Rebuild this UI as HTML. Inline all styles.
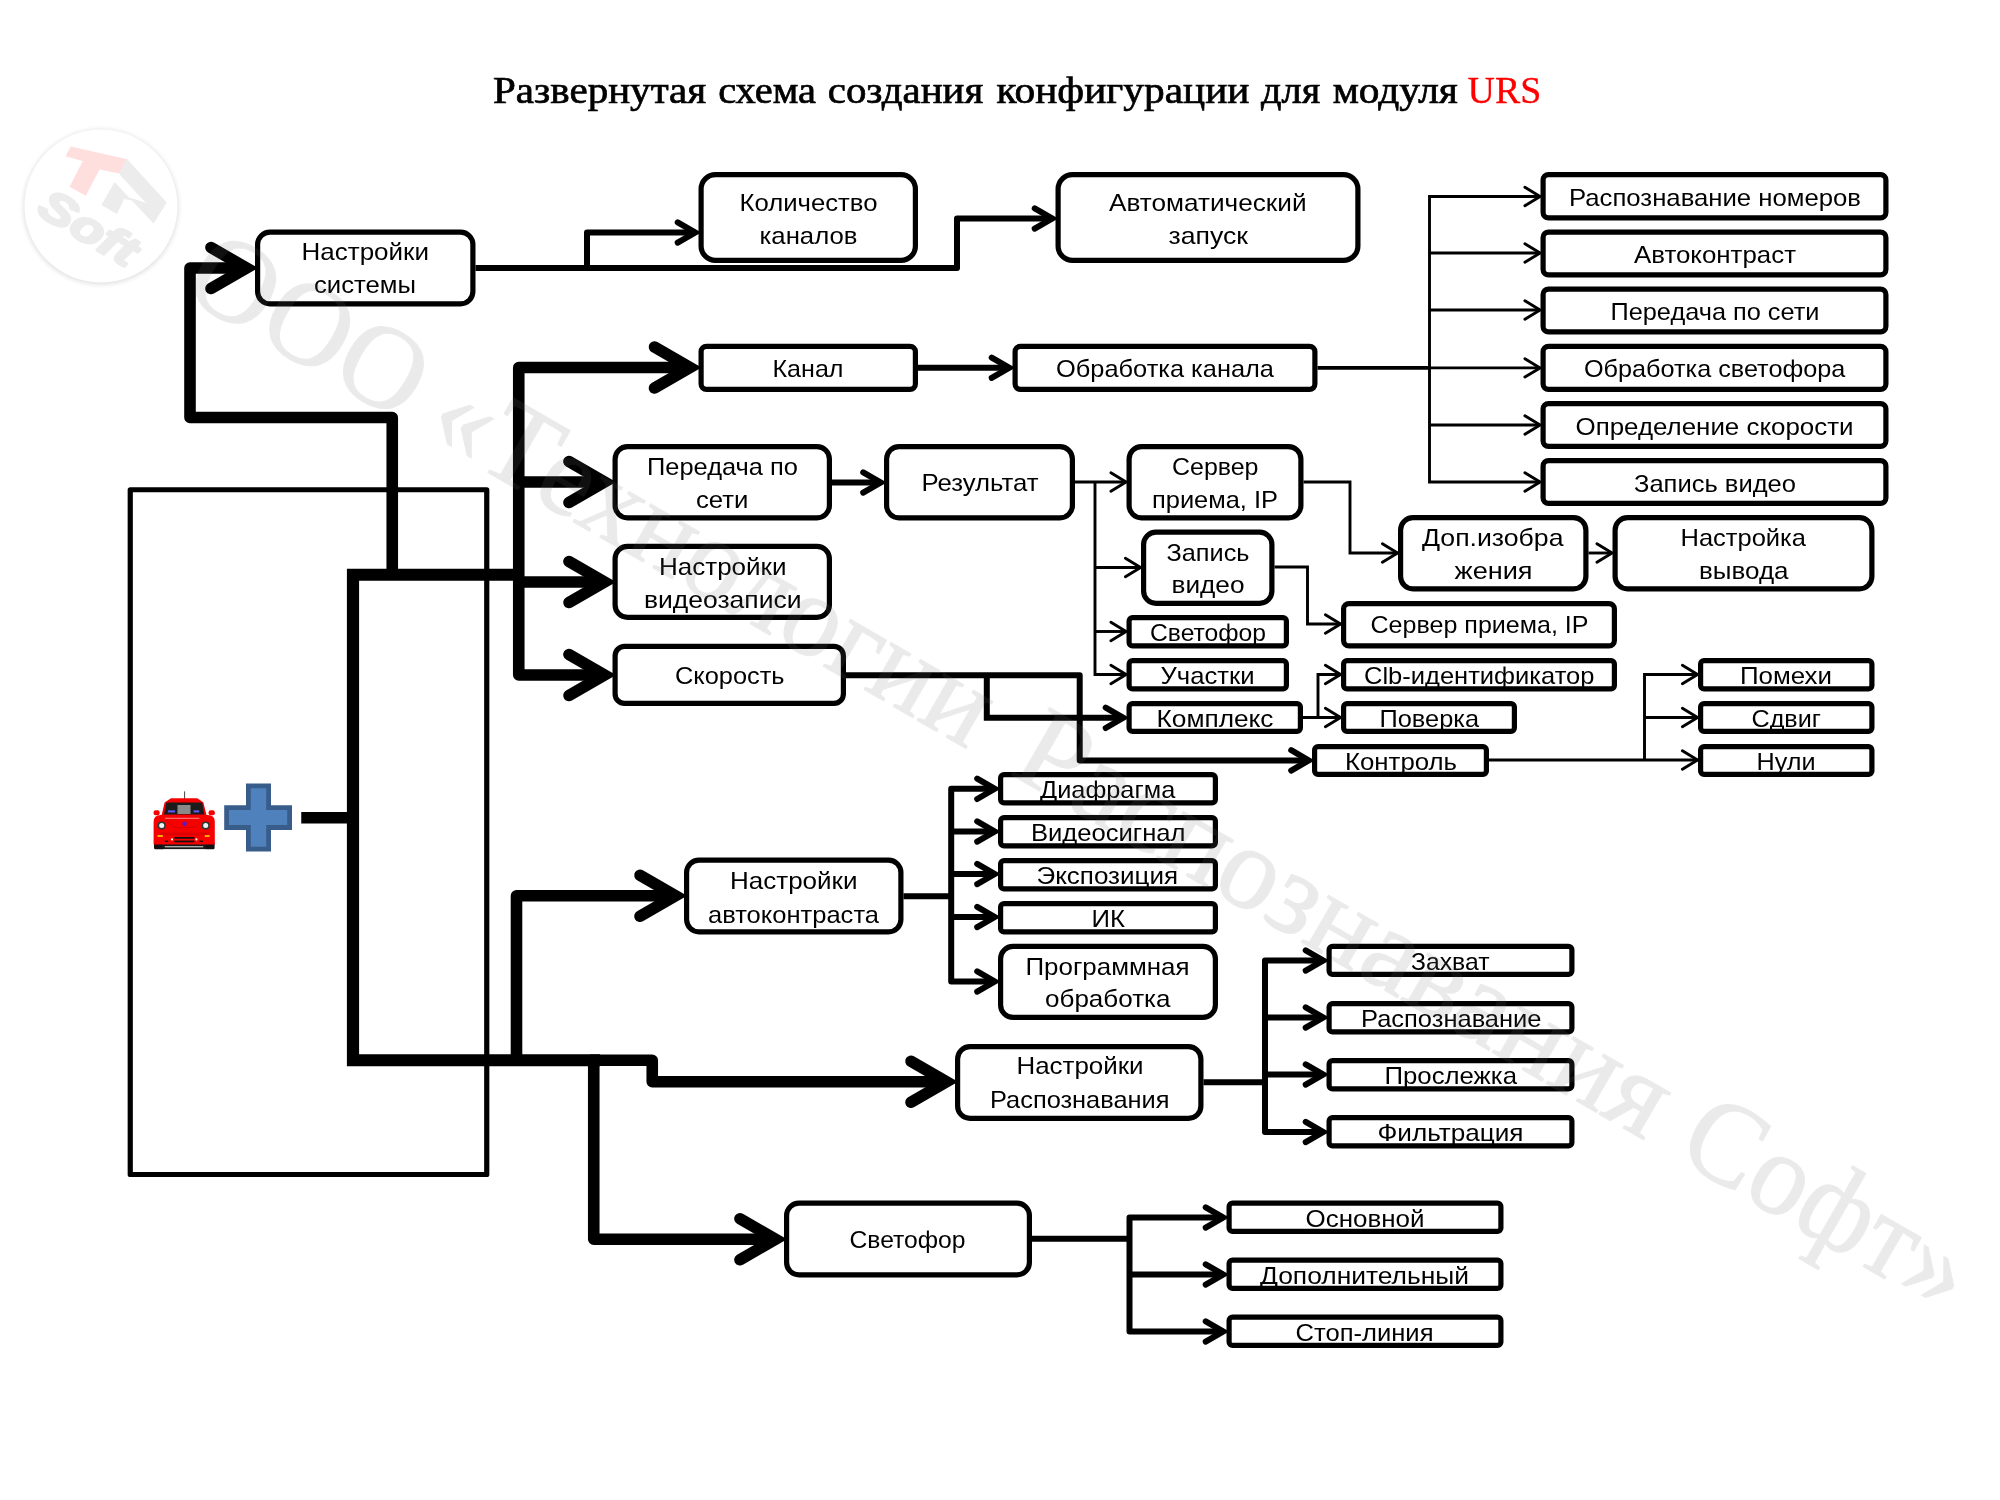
<!DOCTYPE html>
<html lang="ru"><head><meta charset="utf-8"><title>Развернутая схема создания конфигурации для модуля URS</title>
<style>html,body{margin:0;padding:0;background:#fff}body{width:2000px;height:1500px;overflow:hidden}svg{display:block}.lbl{font-family:'Liberation Sans', sans-serif;font-size:24px;fill:#000}.ttl{font-family:'Liberation Serif',serif;font-size:37.5px;fill:#000}.wm{font-family:'Liberation Serif',serif;font-size:118px}</style></head><body>
<svg width="2000" height="1500" viewBox="0 0 2000 1500">
<rect width="2000" height="1500" fill="#fff"/>
<defs><filter id="sh" x="-20%" y="-20%" width="140%" height="140%"><feGaussianBlur stdDeviation="2.2"/></filter></defs>
<g id="logo">
<circle cx="101" cy="207" r="78" fill="#000" opacity="0.10" filter="url(#sh)"/>
<circle cx="101" cy="206" r="76.5" fill="#fff"/>
<polygon points="70.8,146.6 127.2,159.2 119.4,173.6 99.6,169.4 85.8,195.8 69.6,186.8 82.8,161 65.4,156.2" fill="#ffdede"/>
<polygon points="127.2,159.2 166.8,202.4 153.6,223.4 129,197.6 146,203 121,176 119.4,173.6" fill="#ececec"/>
<polygon points="114.6,182 129,197.6 146,203 124,199 117,214 101.4,205" fill="#ececec"/>
<text transform="translate(35,213) rotate(31)" font-family="'Liberation Sans',sans-serif" font-weight="bold" font-style="italic" font-size="44" fill="#ececec" stroke="#ececec" stroke-width="2.6" stroke-linejoin="round" textLength="107" lengthAdjust="spacingAndGlyphs">Soft</text>
</g>
<g class="ttl" stroke="#000" stroke-width="0.7" opacity="0.999">
<text x="493" y="103.4" textLength="213.2" lengthAdjust="spacingAndGlyphs">Развернутая</text>
<text x="718.2" y="103.4" textLength="97.9" lengthAdjust="spacingAndGlyphs">схема</text>
<text x="827.8" y="103.4" textLength="155.4" lengthAdjust="spacingAndGlyphs">создания</text>
<text x="996.5" y="103.4" textLength="253" lengthAdjust="spacingAndGlyphs">конфигурации</text>
<text x="1261.1" y="103.4" textLength="59.1" lengthAdjust="spacingAndGlyphs">для</text>
<text x="1332.7" y="103.4" textLength="125.2" lengthAdjust="spacingAndGlyphs">модуля</text>
</g>
<text class="ttl" x="1467.6" y="103.4" textLength="73.6" lengthAdjust="spacingAndGlyphs" style="fill:#ff0000" stroke="#ff0000" stroke-width="0.3" opacity="0.999">URS</text>
<rect x="130.25" y="489.75" width="356.5" height="684.75" fill="none" stroke="#000" stroke-width="5.2" stroke-linejoin="round"/>
<g fill="none" stroke="#000">
<path d="M301.25,817.75 H353" stroke-width="11.6" stroke-linejoin="round" stroke-linecap="butt"/>
<path d="M518.75,574.75 H353 V1060.25 H600" stroke-width="12.2" stroke-linejoin="miter" stroke-linecap="butt"/>
<path d="M590,1060.25 H652.25 V1081.75 H946.5" stroke-width="11.6" stroke-linejoin="round" stroke-linecap="butt"/>
<path d="M911,1061.25 L946.5,1081.75 L911,1102.25" stroke-width="11.6" stroke-linecap="round" stroke-linejoin="miter" stroke-miterlimit="10"/>
<path d="M392.25,574.75 V417.5 H190 V268 H246.5" stroke-width="11.6" stroke-linejoin="round" stroke-linecap="butt"/>
<path d="M211,247.5 L246.5,268 L211,288.5" stroke-width="11.6" stroke-linecap="round" stroke-linejoin="miter" stroke-miterlimit="10"/>
<path d="M690,367.5 H518.75 V675 H604.5" stroke-width="11.6" stroke-linejoin="round" stroke-linecap="butt"/>
<path d="M569,654.5 L604.5,675 L569,695.5" stroke-width="11.6" stroke-linecap="round" stroke-linejoin="miter" stroke-miterlimit="10"/>
<path d="M654.5,347 L690,367.5 L654.5,388" stroke-width="11.6" stroke-linecap="round" stroke-linejoin="miter" stroke-miterlimit="10"/>
<path d="M518.75,482 H604.5" stroke-width="11.6" stroke-linejoin="round" stroke-linecap="butt"/>
<path d="M569,461.5 L604.5,482 L569,502.5" stroke-width="11.6" stroke-linecap="round" stroke-linejoin="miter" stroke-miterlimit="10"/>
<path d="M513,582 H604.5" stroke-width="11.6" stroke-linejoin="round" stroke-linecap="butt"/>
<path d="M569,561.5 L604.5,582 L569,602.5" stroke-width="11.6" stroke-linecap="round" stroke-linejoin="miter" stroke-miterlimit="10"/>
<path d="M516.5,1060.25 V895.75 H675.5" stroke-width="11.6" stroke-linejoin="round" stroke-linecap="butt"/>
<path d="M640,875.25 L675.5,895.75 L640,916.25" stroke-width="11.6" stroke-linecap="round" stroke-linejoin="miter" stroke-miterlimit="10"/>
<path d="M593.75,1060.25 V1239.25 H775.5" stroke-width="11.6" stroke-linejoin="round" stroke-linecap="butt"/>
<path d="M740,1218.75 L775.5,1239.25 L740,1259.75" stroke-width="11.6" stroke-linecap="round" stroke-linejoin="miter" stroke-miterlimit="10"/>
<path d="M475.5,268 H957 V218.5 H1052.3" stroke-width="6.0" stroke-linejoin="round" stroke-linecap="butt"/>
<path d="M1034.7,208.3 L1052.3,218.5 L1034.7,228.7" stroke-width="6.0" stroke-linecap="round" stroke-linejoin="miter" stroke-miterlimit="10"/>
<path d="M587,268 V232.5 H695.3" stroke-width="6.0" stroke-linejoin="round" stroke-linecap="butt"/>
<path d="M677.7,222.3 L695.3,232.5 L677.7,242.7" stroke-width="6.0" stroke-linecap="round" stroke-linejoin="miter" stroke-miterlimit="10"/>
<path d="M918,367.75 H1009.3" stroke-width="6.0" stroke-linejoin="round" stroke-linecap="butt"/>
<path d="M991.7,357.55 L1009.3,367.75 L991.7,377.95" stroke-width="6.0" stroke-linecap="round" stroke-linejoin="miter" stroke-miterlimit="10"/>
<path d="M832,482.5 H880.8" stroke-width="6.0" stroke-linejoin="round" stroke-linecap="butt"/>
<path d="M863.2,472.3 L880.8,482.5 L863.2,492.7" stroke-width="6.0" stroke-linecap="round" stroke-linejoin="miter" stroke-miterlimit="10"/>
<path d="M846,675.25 H1079.7 V760.4 H1308.8" stroke-width="6.0" stroke-linejoin="round" stroke-linecap="butt"/>
<path d="M1291.2,750.2 L1308.8,760.4 L1291.2,770.6" stroke-width="6.0" stroke-linecap="round" stroke-linejoin="miter" stroke-miterlimit="10"/>
<path d="M986.8,675.25 V717.8 H1123.3" stroke-width="6.0" stroke-linejoin="miter" stroke-linecap="butt"/>
<path d="M1105.7,707.6 L1123.3,717.8 L1105.7,728" stroke-width="6.0" stroke-linecap="round" stroke-linejoin="miter" stroke-miterlimit="10"/>
<path d="M903.5,896.25 H951.2" stroke-width="6.0" stroke-linejoin="round" stroke-linecap="butt"/>
<path d="M994.8,788.8 H951.2 V981.5 H994.8" stroke-width="6.0" stroke-linejoin="round" stroke-linecap="butt"/>
<path d="M977.2,971.3 L994.8,981.5 L977.2,991.7" stroke-width="6.0" stroke-linecap="round" stroke-linejoin="miter" stroke-miterlimit="10"/>
<path d="M977.2,778.6 L994.8,788.8 L977.2,799" stroke-width="6.0" stroke-linecap="round" stroke-linejoin="miter" stroke-miterlimit="10"/>
<path d="M951.2,831.5 H994.8" stroke-width="6.0" stroke-linejoin="round" stroke-linecap="butt"/>
<path d="M977.2,821.3 L994.8,831.5 L977.2,841.7" stroke-width="6.0" stroke-linecap="round" stroke-linejoin="miter" stroke-miterlimit="10"/>
<path d="M951.2,874 H994.8" stroke-width="6.0" stroke-linejoin="round" stroke-linecap="butt"/>
<path d="M977.2,863.8 L994.8,874 L977.2,884.2" stroke-width="6.0" stroke-linecap="round" stroke-linejoin="miter" stroke-miterlimit="10"/>
<path d="M951.2,917 H994.8" stroke-width="6.0" stroke-linejoin="round" stroke-linecap="butt"/>
<path d="M977.2,906.8 L994.8,917 L977.2,927.2" stroke-width="6.0" stroke-linecap="round" stroke-linejoin="miter" stroke-miterlimit="10"/>
<path d="M1203.5,1082.25 H1265" stroke-width="6.0" stroke-linejoin="round" stroke-linecap="butt"/>
<path d="M1323.3,960.5 H1265 V1132 H1323.3" stroke-width="6.0" stroke-linejoin="round" stroke-linecap="butt"/>
<path d="M1305.7,1121.8 L1323.3,1132 L1305.7,1142.2" stroke-width="6.0" stroke-linecap="round" stroke-linejoin="miter" stroke-miterlimit="10"/>
<path d="M1305.7,950.3 L1323.3,960.5 L1305.7,970.7" stroke-width="6.0" stroke-linecap="round" stroke-linejoin="miter" stroke-miterlimit="10"/>
<path d="M1265,1017.5 H1323.3" stroke-width="6.0" stroke-linejoin="round" stroke-linecap="butt"/>
<path d="M1305.7,1007.3 L1323.3,1017.5 L1305.7,1027.7" stroke-width="6.0" stroke-linecap="round" stroke-linejoin="miter" stroke-miterlimit="10"/>
<path d="M1265,1074.5 H1323.3" stroke-width="6.0" stroke-linejoin="round" stroke-linecap="butt"/>
<path d="M1305.7,1064.3 L1323.3,1074.5 L1305.7,1084.7" stroke-width="6.0" stroke-linecap="round" stroke-linejoin="miter" stroke-miterlimit="10"/>
<path d="M1032,1238.75 H1129.5" stroke-width="6.0" stroke-linejoin="round" stroke-linecap="butt"/>
<path d="M1223.3,1217.5 H1129.5 V1331.5 H1223.3" stroke-width="6.0" stroke-linejoin="round" stroke-linecap="butt"/>
<path d="M1205.7,1321.3 L1223.3,1331.5 L1205.7,1341.7" stroke-width="6.0" stroke-linecap="round" stroke-linejoin="miter" stroke-miterlimit="10"/>
<path d="M1205.7,1207.3 L1223.3,1217.5 L1205.7,1227.7" stroke-width="6.0" stroke-linecap="round" stroke-linejoin="miter" stroke-miterlimit="10"/>
<path d="M1129.5,1274.5 H1223.3" stroke-width="6.0" stroke-linejoin="round" stroke-linecap="butt"/>
<path d="M1205.7,1264.3 L1223.3,1274.5 L1205.7,1284.7" stroke-width="6.0" stroke-linecap="round" stroke-linejoin="miter" stroke-miterlimit="10"/>
<path d="M1317.5,367.9 H1431" stroke-width="3.6" stroke-linejoin="round" stroke-linecap="butt"/>
<path d="M1540,196.5 H1429.5 V482 H1540.1" stroke-width="2.9" stroke-linejoin="miter" stroke-linecap="butt"/>
<path d="M1524.9,472.8 L1540.1,482 L1524.9,491.2" stroke-width="2.9" stroke-linecap="round" stroke-linejoin="miter" stroke-miterlimit="10"/>
<path d="M1524.9,187.3 L1540.1,196.5 L1524.9,205.7" stroke-width="2.9" stroke-linecap="round" stroke-linejoin="miter" stroke-miterlimit="10"/>
<path d="M1429.5,253 H1540.1" stroke-width="2.9" stroke-linejoin="round" stroke-linecap="butt"/>
<path d="M1524.9,243.8 L1540.1,253 L1524.9,262.2" stroke-width="2.9" stroke-linecap="round" stroke-linejoin="miter" stroke-miterlimit="10"/>
<path d="M1429.5,310 H1540.1" stroke-width="2.9" stroke-linejoin="round" stroke-linecap="butt"/>
<path d="M1524.9,300.8 L1540.1,310 L1524.9,319.2" stroke-width="2.9" stroke-linecap="round" stroke-linejoin="miter" stroke-miterlimit="10"/>
<path d="M1429.5,367.9 H1540.1" stroke-width="2.9" stroke-linejoin="round" stroke-linecap="butt"/>
<path d="M1524.9,358.7 L1540.1,367.9 L1524.9,377.1" stroke-width="2.9" stroke-linecap="round" stroke-linejoin="miter" stroke-miterlimit="10"/>
<path d="M1429.5,425 H1540.1" stroke-width="2.9" stroke-linejoin="round" stroke-linecap="butt"/>
<path d="M1524.9,415.8 L1540.1,425 L1524.9,434.2" stroke-width="2.9" stroke-linecap="round" stroke-linejoin="miter" stroke-miterlimit="10"/>
<path d="M1075,482 H1126.1" stroke-width="2.9" stroke-linejoin="round" stroke-linecap="butt"/>
<path d="M1110.9,472.8 L1126.1,482 L1110.9,491.2" stroke-width="2.9" stroke-linecap="round" stroke-linejoin="miter" stroke-miterlimit="10"/>
<path d="M1095,482 V674.5 H1126.1" stroke-width="2.9" stroke-linejoin="miter" stroke-linecap="butt"/>
<path d="M1110.9,665.3 L1126.1,674.5 L1110.9,683.7" stroke-width="2.9" stroke-linecap="round" stroke-linejoin="miter" stroke-miterlimit="10"/>
<path d="M1095,567.5 H1140.6" stroke-width="2.9" stroke-linejoin="round" stroke-linecap="butt"/>
<path d="M1125.4,558.3 L1140.6,567.5 L1125.4,576.7" stroke-width="2.9" stroke-linecap="round" stroke-linejoin="miter" stroke-miterlimit="10"/>
<path d="M1095,631.5 H1126.1" stroke-width="2.9" stroke-linejoin="round" stroke-linecap="butt"/>
<path d="M1110.9,622.3 L1126.1,631.5 L1110.9,640.7" stroke-width="2.9" stroke-linecap="round" stroke-linejoin="miter" stroke-miterlimit="10"/>
<path d="M1303.5,482 H1350 V553 H1397.6" stroke-width="2.9" stroke-linejoin="miter" stroke-linecap="butt"/>
<path d="M1382.4,543.8 L1397.6,553 L1382.4,562.2" stroke-width="2.9" stroke-linecap="round" stroke-linejoin="miter" stroke-miterlimit="10"/>
<path d="M1274.5,567 H1307.5 V624 H1340.6" stroke-width="2.9" stroke-linejoin="miter" stroke-linecap="butt"/>
<path d="M1325.4,614.8 L1340.6,624 L1325.4,633.2" stroke-width="2.9" stroke-linecap="round" stroke-linejoin="miter" stroke-miterlimit="10"/>
<path d="M1303,717.5 H1340.6" stroke-width="2.9" stroke-linejoin="round" stroke-linecap="butt"/>
<path d="M1325.4,708.3 L1340.6,717.5 L1325.4,726.7" stroke-width="2.9" stroke-linecap="round" stroke-linejoin="miter" stroke-miterlimit="10"/>
<path d="M1318,717.5 V674.5 H1340.6" stroke-width="2.9" stroke-linejoin="miter" stroke-linecap="butt"/>
<path d="M1325.4,665.3 L1340.6,674.5 L1325.4,683.7" stroke-width="2.9" stroke-linecap="round" stroke-linejoin="miter" stroke-miterlimit="10"/>
<path d="M1588.5,553 H1612.1" stroke-width="2.9" stroke-linejoin="round" stroke-linecap="butt"/>
<path d="M1596.9,543.8 L1612.1,553 L1596.9,562.2" stroke-width="2.9" stroke-linecap="round" stroke-linejoin="miter" stroke-miterlimit="10"/>
<path d="M1489,760 H1697.6" stroke-width="2.9" stroke-linejoin="round" stroke-linecap="butt"/>
<path d="M1682.4,750.8 L1697.6,760 L1682.4,769.2" stroke-width="2.9" stroke-linecap="round" stroke-linejoin="miter" stroke-miterlimit="10"/>
<path d="M1644.5,760 V674.5 H1697.6" stroke-width="2.9" stroke-linejoin="miter" stroke-linecap="butt"/>
<path d="M1682.4,665.3 L1697.6,674.5 L1682.4,683.7" stroke-width="2.9" stroke-linecap="round" stroke-linejoin="miter" stroke-miterlimit="10"/>
<path d="M1644.5,717.5 H1697.6" stroke-width="2.9" stroke-linejoin="round" stroke-linecap="butt"/>
<path d="M1682.4,708.3 L1697.6,717.5 L1682.4,726.7" stroke-width="2.9" stroke-linecap="round" stroke-linejoin="miter" stroke-miterlimit="10"/>
</g>
<g fill="#fff" stroke="#000" stroke-width="5.2">
<rect x="257.6" y="232.1" width="215.3" height="71.8" rx="12.4" ry="12.4"/>
<rect x="701.1" y="174.6" width="214.3" height="85.8" rx="14.4" ry="14.4"/>
<rect x="1058.1" y="174.6" width="299.8" height="85.8" rx="14.4" ry="14.4"/>
<rect x="701.1" y="346.35" width="214.3" height="43.05" rx="5.4" ry="5.4"/>
<rect x="1015.1" y="346.35" width="299.8" height="43.05" rx="5.4" ry="5.4"/>
<rect x="1543.1" y="174.6" width="342.8" height="43.3" rx="5.4" ry="5.4"/>
<rect x="1543.1" y="232.1" width="342.8" height="42.8" rx="5.4" ry="5.4"/>
<rect x="1543.1" y="289.1" width="342.8" height="42.8" rx="5.4" ry="5.4"/>
<rect x="1543.1" y="346.35" width="342.8" height="43.05" rx="5.4" ry="5.4"/>
<rect x="1543.1" y="403.6" width="342.8" height="42.8" rx="5.4" ry="5.4"/>
<rect x="1543.1" y="460.6" width="342.8" height="42.8" rx="5.4" ry="5.4"/>
<rect x="615.1" y="446.6" width="214.3" height="71.3" rx="12.4" ry="12.4"/>
<rect x="886.6" y="446.6" width="185.8" height="71.3" rx="12.4" ry="12.4"/>
<rect x="1129.1" y="446.6" width="171.8" height="71.3" rx="12.4" ry="12.4"/>
<rect x="615.1" y="546.35" width="214.3" height="71.05" rx="12.4" ry="12.4"/>
<rect x="615.1" y="646.35" width="228.3" height="57.05" rx="9.4" ry="9.4"/>
<rect x="1143.6" y="532.1" width="128.3" height="71.3" rx="12.4" ry="12.4"/>
<rect x="1129.1" y="617.6" width="157.3" height="28.3" rx="3.4" ry="3.4"/>
<rect x="1129.1" y="660.6" width="157.3" height="28.3" rx="3.4" ry="3.4"/>
<rect x="1129.1" y="703.6" width="171.3" height="27.8" rx="3.4" ry="3.4"/>
<rect x="1400.6" y="517.6" width="185.3" height="71.3" rx="12.4" ry="12.4"/>
<rect x="1615.1" y="517.6" width="256.8" height="71.3" rx="12.4" ry="12.4"/>
<rect x="1343.6" y="603.6" width="270.8" height="42.3" rx="5.4" ry="5.4"/>
<rect x="1343.6" y="660.6" width="270.8" height="28.3" rx="3.4" ry="3.4"/>
<rect x="1343.6" y="703.6" width="170.8" height="27.8" rx="3.4" ry="3.4"/>
<rect x="1314.6" y="746.6" width="171.8" height="27.8" rx="3.4" ry="3.4"/>
<rect x="1700.6" y="660.6" width="171.3" height="28.3" rx="3.4" ry="3.4"/>
<rect x="1700.6" y="703.6" width="171.3" height="27.8" rx="3.4" ry="3.4"/>
<rect x="1700.6" y="746.6" width="171.3" height="27.8" rx="3.4" ry="3.4"/>
<rect x="1000.6" y="774.6" width="214.8" height="28.3" rx="3.4" ry="3.4"/>
<rect x="1000.6" y="817.6" width="214.8" height="28.3" rx="3.4" ry="3.4"/>
<rect x="1000.6" y="860.6" width="214.8" height="28.3" rx="3.4" ry="3.4"/>
<rect x="1000.6" y="903.6" width="214.8" height="28.3" rx="3.4" ry="3.4"/>
<rect x="1000.6" y="946.35" width="214.8" height="71.05" rx="12.4" ry="12.4"/>
<rect x="686.6" y="860.1" width="214.3" height="71.8" rx="12.4" ry="12.4"/>
<rect x="957.6" y="1046.6" width="243.3" height="71.8" rx="12.4" ry="12.4"/>
<rect x="1329.1" y="946.35" width="242.8" height="28.05" rx="3.4" ry="3.4"/>
<rect x="1329.1" y="1003.6" width="242.8" height="28.3" rx="3.4" ry="3.4"/>
<rect x="1329.1" y="1060.6" width="242.8" height="28.3" rx="3.4" ry="3.4"/>
<rect x="1329.1" y="1117.6" width="242.8" height="28.3" rx="3.4" ry="3.4"/>
<rect x="786.6" y="1203.1" width="242.8" height="71.8" rx="12.4" ry="12.4"/>
<rect x="1229.1" y="1203.1" width="271.8" height="28.3" rx="3.4" ry="3.4"/>
<rect x="1229.1" y="1260.1" width="271.8" height="28.3" rx="3.4" ry="3.4"/>
<rect x="1229.1" y="1317.1" width="271.8" height="28.3" rx="3.4" ry="3.4"/>
</g>
<g class="lbl" opacity="0.999">
<text x="301.5" y="259.5" textLength="127.5" lengthAdjust="spacingAndGlyphs">Настройки</text>
<text x="314" y="293" textLength="102" lengthAdjust="spacingAndGlyphs">системы</text>
<text x="739.5" y="210.5" textLength="138" lengthAdjust="spacingAndGlyphs">Количество</text>
<text x="759.5" y="243.5" textLength="98" lengthAdjust="spacingAndGlyphs">каналов</text>
<text x="1109" y="210.5" textLength="197.5" lengthAdjust="spacingAndGlyphs">Автоматический</text>
<text x="1168.5" y="243.5" textLength="79.5" lengthAdjust="spacingAndGlyphs">запуск</text>
<text x="772.5" y="377" textLength="71" lengthAdjust="spacingAndGlyphs">Канал</text>
<text x="1056" y="377" textLength="218" lengthAdjust="spacingAndGlyphs">Обработка канала</text>
<text x="1569" y="206" textLength="292" lengthAdjust="spacingAndGlyphs">Распознавание номеров</text>
<text x="1634" y="263" textLength="162" lengthAdjust="spacingAndGlyphs">Автоконтраст</text>
<text x="1610.5" y="320" textLength="209" lengthAdjust="spacingAndGlyphs">Передача по сети</text>
<text x="1584" y="377" textLength="261.25" lengthAdjust="spacingAndGlyphs">Обработка светофора</text>
<text x="1575.5" y="434.5" textLength="278" lengthAdjust="spacingAndGlyphs">Определение скорости</text>
<text x="1634" y="491.5" textLength="162" lengthAdjust="spacingAndGlyphs">Запись видео</text>
<text x="647" y="475" textLength="151" lengthAdjust="spacingAndGlyphs">Передача по</text>
<text x="696" y="507.5" textLength="52.5" lengthAdjust="spacingAndGlyphs">сети</text>
<text x="921.5" y="491" textLength="117" lengthAdjust="spacingAndGlyphs">Результат</text>
<text x="1172" y="475" textLength="86.5" lengthAdjust="spacingAndGlyphs">Сервер</text>
<text x="1152" y="507.5" textLength="126" lengthAdjust="spacingAndGlyphs">приема, IP</text>
<text x="659" y="574.5" textLength="127.5" lengthAdjust="spacingAndGlyphs">Настройки</text>
<text x="644" y="608" textLength="157.5" lengthAdjust="spacingAndGlyphs">видеозаписи</text>
<text x="675" y="683.5" textLength="109.5" lengthAdjust="spacingAndGlyphs">Скорость</text>
<text x="1166.5" y="560.5" textLength="83" lengthAdjust="spacingAndGlyphs">Запись</text>
<text x="1171.5" y="593" textLength="73" lengthAdjust="spacingAndGlyphs">видео</text>
<text x="1150" y="640.5" textLength="116" lengthAdjust="spacingAndGlyphs">Светофор</text>
<text x="1160.5" y="683.5" textLength="94" lengthAdjust="spacingAndGlyphs">Участки</text>
<text x="1156.5" y="726.5" textLength="117" lengthAdjust="spacingAndGlyphs">Комплекс</text>
<text x="1422" y="545.5" textLength="141.5" lengthAdjust="spacingAndGlyphs">Доп.изобра</text>
<text x="1454.5" y="579" textLength="78" lengthAdjust="spacingAndGlyphs">жения</text>
<text x="1680.5" y="545.5" textLength="125.5" lengthAdjust="spacingAndGlyphs">Настройка</text>
<text x="1699" y="579" textLength="89.5" lengthAdjust="spacingAndGlyphs">вывода</text>
<text x="1370.5" y="633" textLength="218" lengthAdjust="spacingAndGlyphs">Сервер приема, IP</text>
<text x="1364" y="683.5" textLength="230.5" lengthAdjust="spacingAndGlyphs">Clb-идентификатор</text>
<text x="1379.5" y="726.5" textLength="99.5" lengthAdjust="spacingAndGlyphs">Поверка</text>
<text x="1345" y="769.5" textLength="112" lengthAdjust="spacingAndGlyphs">Контроль</text>
<text x="1740" y="683.5" textLength="92" lengthAdjust="spacingAndGlyphs">Помехи</text>
<text x="1751.5" y="726.5" textLength="69.5" lengthAdjust="spacingAndGlyphs">Сдвиг</text>
<text x="1756.5" y="769.5" textLength="59" lengthAdjust="spacingAndGlyphs">Нули</text>
<text x="1040" y="797.5" textLength="135.25" lengthAdjust="spacingAndGlyphs">Диафрагма</text>
<text x="1031" y="840.5" textLength="154.5" lengthAdjust="spacingAndGlyphs">Видеосигнал</text>
<text x="1036.5" y="883.5" textLength="141.5" lengthAdjust="spacingAndGlyphs">Экспозиция</text>
<text x="1091.5" y="926.5" textLength="33.5" lengthAdjust="spacingAndGlyphs">ИК</text>
<text x="1025.5" y="975" textLength="164" lengthAdjust="spacingAndGlyphs">Программная</text>
<text x="1045" y="1007" textLength="125.5" lengthAdjust="spacingAndGlyphs">обработка</text>
<text x="730" y="889" textLength="127.5" lengthAdjust="spacingAndGlyphs">Настройки</text>
<text x="708" y="922.5" textLength="171" lengthAdjust="spacingAndGlyphs">автоконтраста</text>
<text x="1016.5" y="1074" textLength="127" lengthAdjust="spacingAndGlyphs">Настройки</text>
<text x="990" y="1107.5" textLength="179.5" lengthAdjust="spacingAndGlyphs">Распознавания</text>
<text x="1411" y="969.5" textLength="78.5" lengthAdjust="spacingAndGlyphs">Захват</text>
<text x="1361" y="1026.5" textLength="180.5" lengthAdjust="spacingAndGlyphs">Распознавание</text>
<text x="1384.5" y="1084" textLength="132.5" lengthAdjust="spacingAndGlyphs">Прослежка</text>
<text x="1377.5" y="1141" textLength="146" lengthAdjust="spacingAndGlyphs">Фильтрация</text>
<text x="849.5" y="1247.5" textLength="116" lengthAdjust="spacingAndGlyphs">Светофор</text>
<text x="1305.5" y="1226.5" textLength="119" lengthAdjust="spacingAndGlyphs">Основной</text>
<text x="1260" y="1283.5" textLength="209" lengthAdjust="spacingAndGlyphs">Дополнительный</text>
<text x="1295.5" y="1340.5" textLength="138" lengthAdjust="spacingAndGlyphs">Стоп-линия</text>
</g>
<path d="M248.4,785.8 H268.6 V807.6 H289.6 V827.5 H268.6 V849.2 H248.4 V827.5 H226.6 V807.6 H248.4 Z" fill="#4f81bd" stroke="#385d8a" stroke-width="4.8" stroke-linejoin="miter"/>
<g id="car">
<rect x="184.1" y="791.4" width="1" height="7.5" fill="#444"/>
<rect x="154" y="842" width="10" height="7.2" rx="1.5" fill="#111"/><rect x="204.6" y="842" width="10" height="7.2" rx="1.5" fill="#111"/>
<rect x="162" y="843.5" width="44" height="5.6" fill="#1a1a1a"/><rect x="164.8" y="846" width="38.4" height="1.4" fill="#aaa"/>
<path d="M171,798.2 H197.4 L203.4,802.4 L206.6,815.2 H161.6 L164.6,802.4 Z" fill="#f40000"/>
<path d="M166.4,802.4 H202.2 L204.2,814.6 H164 Z" fill="#1c1c1c"/>
<rect x="177.5" y="805" width="13" height="9" fill="#8a8a8a"/>
<rect x="168" y="810.4" width="7" height="2" fill="#5b5bff"/><rect x="193.6" y="810.4" width="5.6" height="2" fill="#5b5bff"/>
<rect x="153.6" y="810.2" width="6" height="5" rx="2" fill="#f40000"/><rect x="208.6" y="810.2" width="6.2" height="5" rx="2" fill="#f40000"/>
<path d="M153.6,822 Q153.6,815 160.6,815 H207.8 Q214.8,815 214.8,822 V844.4 H153.6 Z" fill="#f60000"/>
<rect x="160" y="832.5" width="49" height="3" fill="#e00000"/>
<rect x="165" y="817.8" width="34.4" height="0.9" fill="#ff9a9a"/>
<path d="M166,820 L174,827.5 H195 L203,820" fill="none" stroke="#d80000" stroke-width="0.9"/>
<circle cx="161.7" cy="825.6" r="4.1" fill="#2a3a3a"/><circle cx="161.7" cy="825.6" r="2.5" fill="#f4f4f4"/>
<circle cx="205.7" cy="825.6" r="4.1" fill="#2a3a3a"/><circle cx="205.7" cy="825.6" r="2.5" fill="#f4f4f4"/>
<circle cx="184.6" cy="823.8" r="2.2" fill="#5a18c8"/>
<rect x="157.6" y="835" width="5.2" height="2" fill="#ffb000"/><rect x="204.8" y="835" width="4.8" height="2" fill="#ffb000"/>
<rect x="174.4" y="837" width="20" height="1.7" fill="#111"/><rect x="174.4" y="840.6" width="20" height="1.7" fill="#111"/>
<rect x="164.8" y="840.6" width="3.4" height="1.3" fill="#111"/><rect x="199.2" y="840.6" width="3.6" height="1.3" fill="#111"/>
<circle cx="172" cy="839.4" r="1.1" fill="#fff"/><circle cx="196.4" cy="839.4" r="1.1" fill="#fff"/>
</g>
<g class="wm" transform="translate(179.6,294.5) rotate(30)" opacity="0.14" fill="#747474" stroke="#747474" stroke-width="1.1">
<text x="0" y="0" textLength="255.6" lengthAdjust="spacingAndGlyphs">ООО</text>
<text x="281.5" y="0" textLength="629" lengthAdjust="spacingAndGlyphs">«Технологии</text>
<text x="956.7" y="0" textLength="736" lengthAdjust="spacingAndGlyphs">Распознавания</text>
<text x="1725.6" y="0" textLength="313" lengthAdjust="spacingAndGlyphs">Софт»</text>
</g>
</svg></body></html>
